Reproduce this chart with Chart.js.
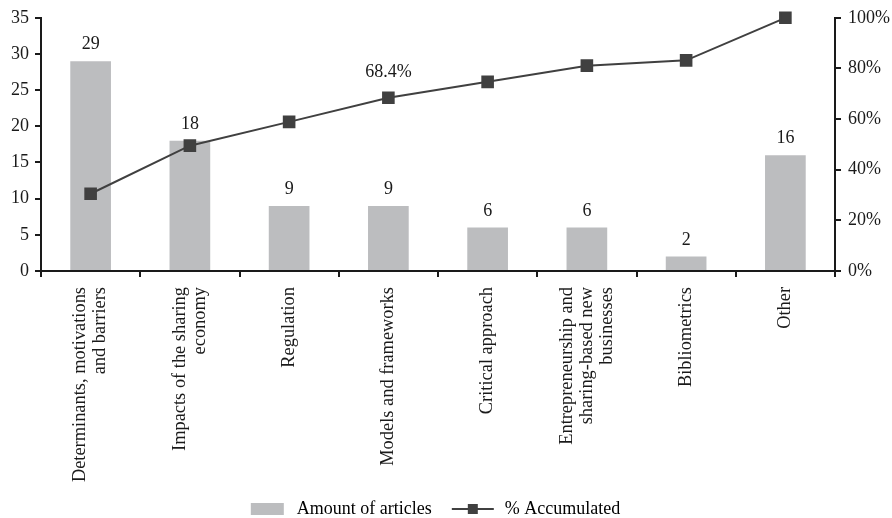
<!DOCTYPE html>
<html>
<head>
<meta charset="utf-8">
<script src="https://cdn.jsdelivr.net/npm/chart.js@4.4.1/dist/chart.umd.min.js"></script>
<style>
  html, body { margin: 0; padding: 0; background: #fff; }
  #wrap { width: 892px; height: 518px; }
</style>
</head>
<body>
<div id="wrap"><canvas id="myChart"></canvas></div>
<script>
const categories = [
  ["Determinants, motivations", "and barriers"],
  ["Impacts of the sharing", "economy"],
  "Regulation",
  "Models and frameworks",
  "Critical approach",
  ["Entrepreneurship and", "sharing-based new", "businesses"],
  "Bibliometrics",
  "Other"
];
const articles = [29, 18, 9, 9, 6, 6, 2, 16];
const accumulated = [30.5, 49.5, 58.9, 68.4, 74.7, 81.1, 83.2, 100];
const lineLabel = [null, null, null, "68.4%", null, null, null, null];

const FONT = '"Liberation Serif", "Times New Roman", serif';
const TXT = '#1a1a1a';
const BAR = '#bcbdbf';
const LINE = '#404040';

// legend icons
function makeIcon(kind) {
  const c = document.createElement('canvas');
  c.width = 54; c.height = 12;
  const g = c.getContext('2d');
  if (kind === 'bar') {
    g.fillStyle = BAR;
    g.fillRect(17, 0, 33, 12);
  } else {
    g.strokeStyle = LINE; g.lineWidth = 2;
    g.beginPath(); g.moveTo(10, 6); g.lineTo(52, 6); g.stroke();
    g.fillStyle = LINE;
    g.fillRect(26, 1, 10, 10);
  }
  return c;
}
const barIcon = makeIcon('bar');
const lineIcon = makeIcon('line');

// numbers over the bars/points and the centred x labels
const labelPlugin = {
  id: 'labelPlugin',
  afterLayout(chart) {
    // nudge the legend down/left a little
    const lg = chart.legend;
    lg.top += 10; lg.bottom += 10;
    lg.left -= 19; lg.right -= 19;
  },
  afterDraw(chart) {
    const ctx = chart.ctx;
    ctx.save();
    ctx.font = '18px ' + FONT;
    ctx.fillStyle = TXT;
    ctx.textAlign = 'center';
    ctx.textBaseline = 'alphabetic';
    chart.getDatasetMeta(1).data.forEach((bar, i) => {
      ctx.fillText(String(articles[i]), bar.x, bar.y - 12);
    });
    chart.getDatasetMeta(0).data.forEach((pt, i) => {
      if (lineLabel[i]) ctx.fillText(lineLabel[i], pt.x, pt.y - 21);
    });

    const xs = chart.scales.x;
    const lh = 20;
    ctx.font = '18.4px ' + FONT;
    categories.forEach((lab, i) => {
      const lines = Array.isArray(lab) ? lab : [lab];
      const px = xs.getPixelForTick(i);
      ctx.save();
      ctx.translate(px, xs.top + 16);
      ctx.rotate(-Math.PI / 2);
      ctx.textAlign = 'right';
      ctx.textBaseline = 'middle';
      lines.forEach((ln, j) => {
        ctx.fillText(ln, 0, (j - (lines.length - 1) / 2) * lh);
      });
      ctx.restore();
    });
    ctx.restore();
  }
};

const ctx = document.getElementById('myChart').getContext('2d');
const myChart = new Chart(ctx, {
  type: 'bar',
  data: {
    labels: categories,
    datasets: [{
      type: 'line',
      label: '% Accumulated',
      data: accumulated,
      yAxisID: 'y1',
      borderColor: LINE,
      backgroundColor: LINE,
      borderWidth: 2,
      pointStyle: 'rect',
      pointRadius: 7.5,
      pointHoverRadius: 7.5,
      tension: 0,
      clip: false,
      order: 0
    }, {
      type: 'bar',
      label: 'Amount of articles',
      data: articles,
      yAxisID: 'y',
      backgroundColor: BAR,
      categoryPercentage: 1,
      barPercentage: 0.41,
      order: 1
    }]
  },
  options: {
    responsive: true,
    maintainAspectRatio: false,
    animation: false,
    layout: { padding: { left: 0, right: 0, top: 7, bottom: 0 } },
    plugins: {
      tooltip: { enabled: false },
      legend: {
        position: 'bottom',
        labels: {
          usePointStyle: true,
          pointStyleWidth: 54,
          boxHeight: 12,
          padding: 10,
          color: TXT,
          font: { family: FONT, size: 18 },
          generateLabels: () => [
            { text: 'Amount of articles', pointStyle: barIcon, fillStyle: BAR, strokeStyle: BAR, lineWidth: 0, hidden: false, datasetIndex: 1 },
            { text: '% Accumulated', pointStyle: lineIcon, fillStyle: LINE, strokeStyle: LINE, lineWidth: 0, hidden: false, datasetIndex: 0 }
          ]
        }
      }
    },
    scales: {
      x: {
        grid: { display: true, drawOnChartArea: false, drawTicks: true, tickLength: 6, color: TXT, lineWidth: 2, offset: true },
        border: { display: true, color: TXT, width: 2 },
        ticks: { display: false, autoSkip: false },
        afterFit: s => { s.height = 209; }
      },
      y: {
        position: 'left',
        min: 0, max: 35,
        grid: { display: true, drawOnChartArea: false, drawTicks: true, tickLength: 6, color: TXT, lineWidth: 2 },
        border: { display: true, color: TXT, width: 2 },
        ticks: { stepSize: 5, color: TXT, padding: 6, font: { family: FONT, size: 18 } },
        afterFit: s => { s.width = 41; }
      },
      y1: {
        position: 'right',
        min: 0, max: 100,
        grid: { display: true, drawOnChartArea: false, drawTicks: true, tickLength: 6, color: TXT, lineWidth: 2 },
        border: { display: true, color: TXT, width: 2 },
        ticks: { stepSize: 20, color: TXT, padding: 7, font: { family: FONT, size: 18 }, callback: v => v + '%' },
        afterFit: s => { s.width = 57; }
      }
    }
  },
  plugins: [labelPlugin]
});
</script>
</body>
</html>
